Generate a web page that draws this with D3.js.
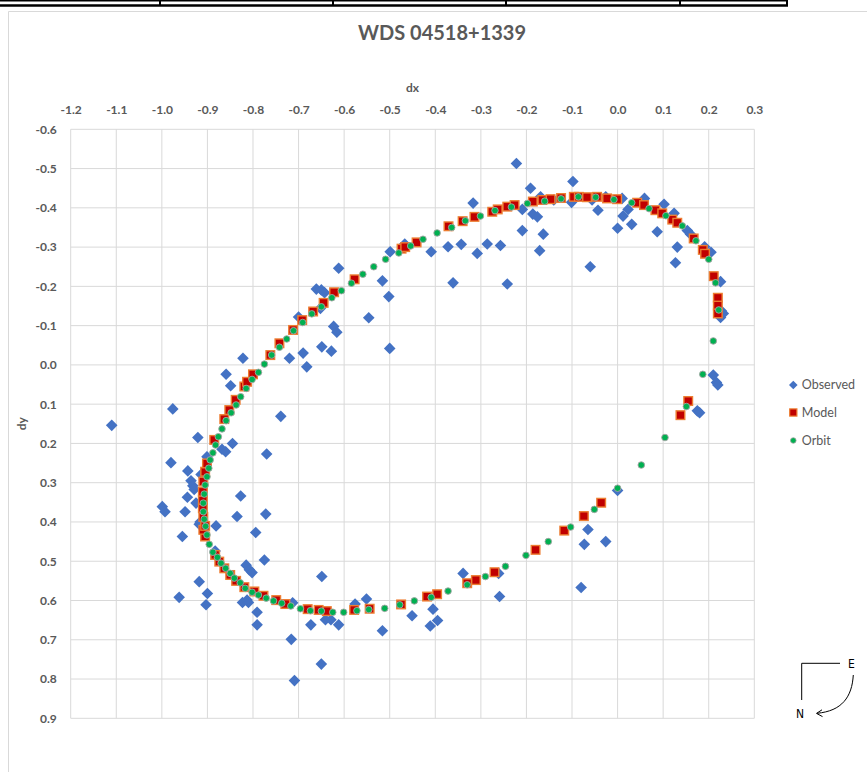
<!DOCTYPE html>
<html>
<head>
<meta charset="utf-8">
<script src="https://cdn.jsdelivr.net/npm/d3@7"></script>
<style>
  html, body { margin: 0; padding: 0; background: #fff; }
  svg { display: block; }
</style>
</head>
<body>
<svg id="chart" width="867" height="772"></svg>
<script>
// ---- data -------------------------------------------------------------
const title = "WDS 04518+1339";
const xTicks = [-1.2, -1.1, -1.0, -0.9, -0.8, -0.7, -0.6, -0.5, -0.4, -0.3, -0.2, -0.1, 0.0, 0.1, 0.2, 0.3];
const xTickLabels = ["-1.2", "-1.1", "-1.0", "-0.9", "-0.8", "-0.7", "-0.6", "-0.5", "-0.4", "-0.3", "-0.2", "-0.1", "0.0", "0.1", "0.2", "0.3"];
const yTicks = [-0.6, -0.5, -0.4, -0.3, -0.2, -0.1, 0.0, 0.1, 0.2, 0.3, 0.4, 0.5, 0.6, 0.7, 0.8, 0.9];
const yTickLabels = ["-0.6", "-0.5", "-0.4", "-0.3", "-0.2", "-0.1", "0.0", "0.1", "0.2", "0.3", "0.4", "0.5", "0.6", "0.7", "0.8", "0.9"];
const seriesNames = ["Observed", "Model", "Orbit"];

// measured positions [dx, dy]
const observed = [
  [-0.222,-0.513],[-0.191,-0.450],[-0.098,-0.467],[-0.317,-0.412],[-0.209,-0.396],[-0.186,-0.384],
  [-0.176,-0.377],[-0.169,-0.428],[-0.140,-0.420],[-0.101,-0.414],[-0.056,-0.420],[-0.026,-0.428],
  [0.010,-0.424],[0.059,-0.424],[0.102,-0.409],[0.124,-0.386],[0.153,-0.342],[0.160,-0.333],
  [0.191,-0.301],[0.205,-0.287],[0.226,-0.212],[0.228,-0.137],[0.232,-0.131],[0.226,-0.121],
  [-0.043,-0.394],[0.012,-0.379],[0.023,-0.396],[0.031,-0.358],[0.000,-0.348],[0.087,-0.339],
  [0.131,-0.300],[0.127,-0.260],[-0.060,-0.250],
  [-0.209,-0.342],[-0.163,-0.333],[-0.171,-0.291],[-0.242,-0.206],[-0.361,-0.209],
  [-0.499,-0.288],[-0.467,-0.308],[-0.409,-0.288],[-0.372,-0.301],[-0.343,-0.307],[-0.308,-0.284],
  [-0.286,-0.308],[-0.257,-0.304],
  [-0.612,-0.246],[-0.661,-0.193],[-0.650,-0.191],[-0.643,-0.184],[-0.516,-0.214],[-0.502,-0.174],
  [-0.652,-0.144],[-0.700,-0.122],[-0.546,-0.120],[-0.623,-0.098],[-0.616,-0.083],[-0.500,-0.042],
  [-0.649,-0.046],[-0.628,-0.035],[-0.690,-0.030],[-0.720,-0.017],[-0.682,0.005],[-0.822,-0.017],
  [-0.859,0.024],[-0.849,0.053],[-0.976,0.112],[-1.110,0.154],[-0.739,0.131],
  [-0.921,0.185],[-0.845,0.200],[-0.868,0.215],[-0.860,0.221],[-0.770,0.227],[-0.980,0.249],
  [-0.901,0.234],[-0.943,0.270],[-0.914,0.279],[-0.936,0.295],[-0.932,0.308],[-0.929,0.317],
  [-0.944,0.337],[-0.925,0.352],[-0.827,0.334],[-0.999,0.361],[-0.993,0.374],[-0.949,0.374],
  [-0.835,0.386],[-0.772,0.380],[-0.918,0.406],[-0.916,0.400],[-0.881,0.410],[-0.794,0.427],
  [-0.955,0.437],[-0.883,0.474],[-0.775,0.497],[-0.815,0.510],[-0.808,0.522],[-0.802,0.529],
  [-0.918,0.552],[-0.900,0.582],[-0.962,0.592],[-0.903,0.611],[-0.823,0.605],[-0.813,0.599],
  [-0.810,0.605],[-0.791,0.630],[-0.791,0.662],[-0.716,0.699],[-0.709,0.804],[-0.713,0.606],
  [-0.649,0.539],[-0.673,0.662],[-0.641,0.649],[-0.629,0.649],[-0.612,0.662],[-0.576,0.609],
  [-0.551,0.596],[-0.516,0.677],[-0.451,0.639],[-0.411,0.665],[-0.395,0.651],[-0.405,0.622],
  [-0.650,0.762],[-0.339,0.531],[-0.261,0.531],[-0.259,0.590],
  [0.000,0.320],[-0.065,0.419],[-0.073,0.457],[-0.026,0.450],[-0.080,0.567],
  [0.210,0.026],[0.217,0.045],[0.220,0.051],[0.175,0.117],[0.180,0.122]
];

const model = [
  [0.155,0.092],[0.138,0.128],[-0.036,0.351],[-0.074,0.385],[-0.117,0.422],[-0.180,0.471],
  [-0.270,0.528],[-0.311,0.548],[-0.330,0.556],[-0.396,0.584],[-0.418,0.590],[-0.475,0.610],
  [-0.544,0.621],[-0.578,0.624],[-0.638,0.627],[-0.656,0.624],[-0.680,0.622],[-0.729,0.609],
  [-0.749,0.599],[-0.777,0.588],[-0.797,0.577],[-0.819,0.566],[-0.837,0.550],[-0.850,0.535],
  [-0.863,0.518],[-0.874,0.501],[-0.883,0.484],[-0.905,0.437],[-0.909,0.420],[-0.905,0.410],
  [-0.909,0.387],[-0.910,0.365],[-0.910,0.344],[-0.910,0.323],[-0.909,0.297],[-0.905,0.272],
  [-0.901,0.251],[-0.885,0.191],[-0.863,0.138],[-0.852,0.115],[-0.838,0.089],[-0.819,0.055],
  [-0.813,0.043],[-0.800,0.024],[-0.762,-0.025],[-0.742,-0.055],[-0.712,-0.089],[-0.692,-0.114],
  [-0.668,-0.136],[-0.645,-0.158],[-0.622,-0.185],[-0.577,-0.218],[-0.474,-0.296],[-0.466,-0.300],
  [-0.441,-0.312],[-0.371,-0.353],[-0.340,-0.366],[-0.314,-0.377],[-0.275,-0.390],[-0.263,-0.396],
  [-0.242,-0.403],[-0.226,-0.407],[-0.186,-0.416],[-0.165,-0.420],[-0.147,-0.422],[-0.124,-0.425],
  [-0.096,-0.428],[-0.085,-0.428],[-0.067,-0.427],[-0.045,-0.428],[-0.023,-0.424],[-0.001,-0.422],
  [0.043,-0.413],[0.058,-0.407],[0.083,-0.394],[0.098,-0.386],[0.120,-0.370],[0.131,-0.362],
  [0.167,-0.322],[0.187,-0.293],[0.192,-0.283],[0.211,-0.226],[0.220,-0.171],[0.220,-0.151],
  [0.220,-0.131]
];

const orbit = [
  [-0.103,0.413],[-0.051,0.368],[0.000,0.314],[0.052,0.255],[0.104,0.185],[0.151,0.106],
  [0.187,0.024],[0.210,-0.061],[0.222,-0.140],[0.215,-0.209],[0.200,-0.269],[0.172,-0.316],
  [0.142,-0.354],[0.106,-0.380],[0.069,-0.398],[0.031,-0.413],[-0.008,-0.421],[-0.048,-0.427],
  [-0.086,-0.428],[-0.124,-0.423],[-0.160,-0.417],[-0.198,-0.411],[-0.233,-0.402],[-0.269,-0.393],
  [-0.301,-0.379],[-0.334,-0.367],[-0.364,-0.350],[-0.396,-0.336],[-0.427,-0.320],[-0.454,-0.303],
  [-0.480,-0.285],[-0.509,-0.269],[-0.535,-0.250],[-0.559,-0.231],[-0.584,-0.208],[-0.606,-0.189],
  [-0.627,-0.171],[-0.650,-0.148],[-0.671,-0.130],[-0.691,-0.108],[-0.711,-0.087],[-0.726,-0.066],
  [-0.742,-0.045],[-0.759,-0.025],[-0.775,-0.002],[-0.788,0.019],[-0.802,0.037],[-0.815,0.060],
  [-0.827,0.081],[-0.837,0.102],[-0.848,0.122],[-0.859,0.142],[-0.868,0.163],[-0.876,0.183],
  [-0.882,0.204],[-0.888,0.224],[-0.894,0.242],[-0.897,0.263],[-0.901,0.285],[-0.905,0.306],
  [-0.907,0.329],[-0.909,0.352],[-0.909,0.374],[-0.907,0.393],[-0.904,0.411],[-0.901,0.433],
  [-0.896,0.457],[-0.888,0.477],[-0.878,0.490],[-0.870,0.505],[-0.860,0.518],[-0.850,0.531],
  [-0.841,0.543],[-0.828,0.555],[-0.817,0.569],[-0.802,0.579],[-0.788,0.586],[-0.771,0.594],
  [-0.755,0.601],[-0.737,0.607],[-0.717,0.614],[-0.696,0.621],[-0.674,0.626],[-0.650,0.627],
  [-0.625,0.630],[-0.601,0.630],[-0.572,0.626],[-0.546,0.623],[-0.511,0.620],[-0.478,0.611],
  [-0.446,0.601],[-0.409,0.592],[-0.372,0.576],[-0.330,0.560],[-0.290,0.539],[-0.246,0.513],
  [-0.201,0.485],[-0.152,0.450]
];

// ---- layout -----------------------------------------------------------
const svg = d3.select("#chart");
const plot = { left: 70.7, right: 754.3, top: 129.3, bottom: 718.3 };
const FONT = "Lato, 'Open Sans', sans-serif";
const TEXT = "#595959";
const GRID = "#d9d9d9";

const x = d3.scaleLinear().domain([-1.2, 0.3]).range([plot.left, plot.right]);
const y = d3.scaleLinear().domain([-0.6, 0.9]).range([plot.top, plot.bottom]);

// spreadsheet cell border strip above the chart
const strip = svg.append("g").attr("stroke", "#000");
strip.append("line").attr("x1", 0).attr("x2", 788).attr("y1", 0.8).attr("y2", 0.8).attr("stroke-width", 1.6);
strip.append("line").attr("x1", 0).attr("x2", 788).attr("y1", 5.5).attr("y2", 5.5).attr("stroke-width", 2.6);
[160, 333, 506, 680, 787].forEach(v =>
  strip.append("line").attr("x1", v).attr("x2", v).attr("y1", 0).attr("y2", 6).attr("stroke-width", 2));

// chart area frame
svg.append("path")
  .attr("d", "M8.5,772 V11.5 H867")
  .attr("fill", "none").attr("stroke", GRID).attr("stroke-width", 1);

// title
svg.append("text")
  .attr("x", 442).attr("y", 40)
  .attr("text-anchor", "middle")
  .attr("font-family", FONT).attr("font-weight", "bold").attr("font-size", 20)
  .attr("fill", TEXT).text(title);

// gridlines
const grid = svg.append("g").attr("stroke", GRID).attr("stroke-width", 1);
grid.selectAll("line.v").data(xTicks).join("line")
  .attr("class", "v")
  .attr("x1", d => x(d)).attr("x2", d => x(d))
  .attr("y1", plot.top).attr("y2", plot.bottom);
grid.selectAll("line.h").data(yTicks).join("line")
  .attr("class", "h")
  .attr("y1", d => y(d)).attr("y2", d => y(d))
  .attr("x1", plot.left).attr("x2", plot.right);

// axes (labels only)
const xAxis = d3.axisTop(x).tickValues(xTicks).tickSize(0).tickPadding(15)
  .tickFormat((d, i) => xTickLabels[i]);
const yAxis = d3.axisLeft(y).tickValues(yTicks).tickSize(0).tickPadding(14)
  .tickFormat((d, i) => yTickLabels[i]);

const gx = svg.append("g").attr("transform", `translate(0,${plot.top})`).call(xAxis);
const gy = svg.append("g").attr("transform", `translate(${plot.left},0)`).call(yAxis);
[gx, gy].forEach(g => {
  g.select(".domain").remove();
  g.selectAll("text")
    .attr("font-family", FONT).attr("font-size", 12).attr("font-weight", "bold")
    .attr("fill", TEXT);
});

// axis titles
svg.append("text")
  .attr("x", (plot.left + plot.right) / 2).attr("y", 92)
  .attr("text-anchor", "middle")
  .attr("font-family", FONT).attr("font-weight", "bold").attr("font-size", 12)
  .attr("fill", TEXT).text("dx");
svg.append("text")
  .attr("transform", `translate(26,${(plot.top + plot.bottom) / 2}) rotate(-90)`)
  .attr("text-anchor", "middle")
  .attr("font-family", FONT).attr("font-weight", "bold").attr("font-size", 12)
  .attr("fill", TEXT).text("dy");

// marker shapes
const diamond = s => `M0,${-s} L${s},0 L0,${s} L${-s},0 Z`;

// observed
svg.append("g").selectAll("path").data(observed).join("path")
  .attr("transform", d => `translate(${x(d[0])},${y(d[1])})`)
  .attr("d", diamond(5.8))
  .attr("fill", "#4472c4");

// model
svg.append("g").selectAll("rect").data(model).join("rect")
  .attr("x", d => x(d[0]) - 4.3).attr("y", d => y(d[1]) - 4.3)
  .attr("width", 8.6).attr("height", 8.6)
  .attr("fill", "#c00000").attr("stroke", "#ed7d31").attr("stroke-width", 1.4);

// orbit
svg.append("g").selectAll("circle").data(orbit).join("circle")
  .attr("cx", d => x(d[0])).attr("cy", d => y(d[1]))
  .attr("r", 3.3)
  .attr("fill", "#00b050").attr("stroke", "#a5a5a5").attr("stroke-width", 0.9);

// legend
const legend = svg.append("g");
const legY = [385, 412.5, 440.5];
seriesNames.forEach((name, i) => {
  const g = legend.append("g").attr("transform", `translate(793.3,${legY[i]})`);
  if (i === 0) g.append("path").attr("d", diamond(4.3)).attr("fill", "#4472c4");
  if (i === 1) g.append("rect").attr("x", -3.6).attr("y", -3.6).attr("width", 7.2).attr("height", 7.2)
    .attr("fill", "#c00000").attr("stroke", "#ed7d31").attr("stroke-width", 1.2);
  if (i === 2) g.append("circle").attr("r", 2.8).attr("fill", "#00b050").attr("stroke", "#a5a5a5").attr("stroke-width", 0.8);
  g.append("text").attr("x", 8.5).attr("y", 0).attr("dy", "0.35em")
    .attr("font-family", FONT).attr("font-size", 12.5).attr("fill", TEXT).text(name);
});

// orientation marker (E / N)
const compass = svg.append("g").attr("fill", "none").attr("stroke", "#000").attr("stroke-width", 1);
compass.append("path").attr("d", "M801.7,700 V663.3 H840");
compass.append("path").attr("d", "M853.3,675 C852,697 842,711 817,713.3");
compass.append("path").attr("d", "M822,709.8 L816.5,713.4 L822.5,716.6");
svg.append("text").attr("x", 851.5).attr("y", 668)
  .attr("text-anchor", "middle").attr("font-family", "'DejaVu Sans Condensed', 'DejaVu Sans', sans-serif")
  .attr("font-size", 12).attr("fill", "#000").text("E");
svg.append("text").attr("x", 800).attr("y", 718)
  .attr("text-anchor", "middle").attr("font-family", "'DejaVu Sans Condensed', 'DejaVu Sans', sans-serif")
  .attr("font-size", 12).attr("fill", "#000").text("N");
</script>
</body>
</html>
